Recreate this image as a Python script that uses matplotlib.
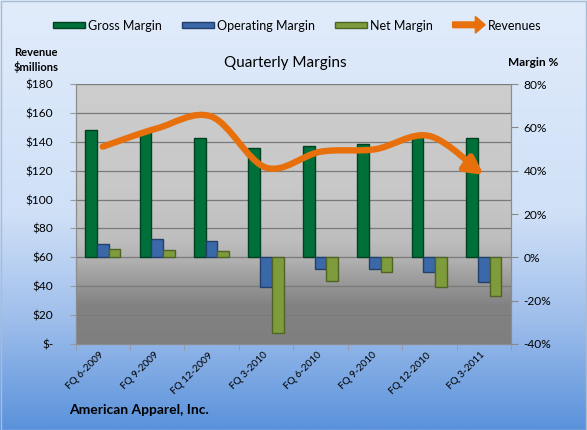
import numpy as np
import matplotlib
matplotlib.use("Agg")
import matplotlib.pyplot as plt
import matplotlib.patches as mpatches
from matplotlib.path import Path
from matplotlib.colors import LinearSegmentedColormap
from matplotlib.legend_handler import HandlerPatch

plt.rcParams['font.family'] = ['Lato', 'DejaVu Sans']

quarters = ['FQ 6-2009', 'FQ 9-2009', 'FQ 12-2009', 'FQ 3-2010',
            'FQ 6-2010', 'FQ 9-2010', 'FQ 12-2010', 'FQ 3-2011']
gross_margin = [59.0, 58.3, 55.3, 50.5, 51.3, 52.4, 56.0, 55.2]
operating_margin = [6.3, 8.6, 7.5, -13.7, -5.3, -5.3, -6.8, -11.5]
net_margin = [4.0, 3.6, 2.8, -34.8, -10.7, -6.8, -13.5, -17.8]
revenues = [136.6, 149.3, 157.4, 122.1, 133.1, 134.8, 144.0, 117.0]

rev_ticks = [0, 20, 40, 60, 80, 100, 120, 140, 160, 180]
margin_ticks = [-40, -20, 0, 20, 40, 60, 80]

orange = '#E8700C'
c_gross, e_gross = '#00703A', '#003F1F'
c_op, e_op = '#3A68A8', '#22406A'
c_net, e_net = '#7F9C3C', '#4F6326'

fig = plt.figure(figsize=(5.87, 4.30), dpi=100)

# figure background gradient
bg = fig.add_axes([0, 0, 1, 1], zorder=-10)
bg_cmap = LinearSegmentedColormap.from_list('bgblue', [
    (0.0, '#5A92DB'), (0.25, '#9DBDEB'), (0.5, '#CFE0F7'), (1.0, '#E1ECFB')])
bg.imshow(np.linspace(0, 1, 256).reshape(-1, 1), cmap=bg_cmap, aspect='auto',
          origin='lower', extent=[0, 1, 0, 1])
bg.set_xlim(0, 1)
bg.set_ylim(0, 1)
bg.axis('off')
bg.add_patch(mpatches.Rectangle((0.001, 0.001), 0.998, 0.997, fill=False,
                                edgecolor='#A8BCD6', linewidth=1))

ax = fig.add_axes([75.5 / 587, 1 - 344 / 430, (511 - 75.5) / 587, 260 / 430])
ax2 = ax.twinx()

# plot area gradient
pa_cmap = LinearSegmentedColormap.from_list('pagray', [
    (0.0, '#7F7F7F'), (0.15, '#828282'), (0.32, '#B0B0B0'),
    (0.4, '#BEBEBE'), (0.6, '#C8C8C8'), (1.0, '#CDCDCD')])
ax.imshow(np.linspace(0, 1, 256).reshape(-1, 1), cmap=pa_cmap, aspect='auto',
          origin='lower', extent=[0, 1, 0, 1], transform=ax.transAxes, zorder=0)

x = np.arange(len(quarters))
ax.set_xlim(-0.5, len(quarters) - 0.5)
ax.set_ylim(0, 180)
ax2.set_ylim(-40, 80)

ax.set_yticks(rev_ticks)
ax.set_yticklabels(['$-' if v == 0 else f'${v}' for v in rev_ticks])
ax2.set_yticks(margin_ticks)
ax2.set_yticklabels([f'{v}%' for v in margin_ticks])
ax.grid(axis='y', color='#7A7A7A', linewidth=0.9, zorder=1)
ax.set_axisbelow(True)

ax.set_xticks(x)
ax.set_xticklabels(quarters, rotation=45, ha='right', va='center',
                   rotation_mode='anchor', fontsize=7.2)
ax.set_xticks(np.arange(-0.5, len(quarters), 1), minor=True)
ax.tick_params(axis='x', which='major', length=0, pad=7)
ax.tick_params(axis='x', which='minor', length=4, color='#999999')
ax.tick_params(axis='y', length=4, color='#999999', labelsize=8.6, pad=12)
ax2.tick_params(axis='y', length=5, color='#888888', labelsize=8.6, pad=4)

for a in (ax, ax2):
    a.spines['top'].set_visible(False)
    for s in ('left', 'right', 'bottom'):
        a.spines[s].set_color('#8C8C8C')

w = 0.215
ax2.bar(x - w, gross_margin, w, color=c_gross, edgecolor=e_gross, linewidth=1, zorder=2)
ax2.bar(x, operating_margin, w, color=c_op, edgecolor=e_op, linewidth=1, zorder=2)
ax2.bar(x + w, net_margin, w, color=c_net, edgecolor=e_net, linewidth=1, zorder=2)

# smoothed revenue line (bezier through the data points) ending in an arrow
pts = np.column_stack([x, revenues]).astype(float)
verts = [pts[0]]
codes = [Path.MOVETO]
n = len(pts)
for i in range(n - 1):
    p0 = pts[max(i - 1, 0)]
    p1 = pts[i]
    p2 = pts[i + 1]
    p3 = pts[min(i + 2, n - 1)]
    verts += [p1 + (p2 - p0) / 6, p2 - (p3 - p1) / 6, p2]
    codes += [Path.CURVE4] * 3
rev_path = Path(verts, codes)
arrow = mpatches.FancyArrowPatch(path=rev_path, transform=ax.transData,
                                 arrowstyle='-|>,head_length=0.8,head_width=0.42',
                                 mutation_scale=13, color=orange, linewidth=4.6,
                                 capstyle='round', joinstyle='round', zorder=5)
ax2.add_patch(arrow)


def make_arrow(legend, orig_handle, xdescent, ydescent, width, height, fontsize):
    return mpatches.FancyArrow(0, height / 2, width, 0, width=height * 0.55,
                               head_width=height * 1.6, head_length=width * 0.3,
                               length_includes_head=True, color=orange, linewidth=0)


def make_bar(legend, orig_handle, xdescent, ydescent, width, height, fontsize):
    return mpatches.Rectangle((0, height * 0.2), width, height * 0.6)


h_gross = mpatches.Patch(facecolor=c_gross, edgecolor=e_gross, label='Gross Margin')
h_op = mpatches.Patch(facecolor=c_op, edgecolor=e_op, label='Operating Margin')
h_net = mpatches.Patch(facecolor=c_net, edgecolor=e_net, label='Net Margin')
h_rev = mpatches.Patch(color=orange, label='Revenues')
bar_handler = HandlerPatch(patch_func=make_bar)
fig.legend(handles=[h_gross, h_op, h_net, h_rev], loc='center', ncol=4,
           bbox_to_anchor=(297 / 587, 1 - 26 / 430), frameon=False, fontsize=9,
           handlelength=2.6, handleheight=0.9, handletextpad=0.2, columnspacing=1.6,
           handler_map={h_gross: bar_handler, h_op: bar_handler, h_net: bar_handler,
                        h_rev: HandlerPatch(patch_func=make_arrow)})

fig.text(285.5 / 587, 1 - 63 / 430, 'Quarterly Margins', ha='center', va='center',
         fontsize=11)
fig.text(36 / 587, 1 - 60 / 430, 'Revenue\n$millions', ha='center', va='center',
         fontsize=8, fontweight='bold', linespacing=1.35)
fig.text(533 / 587, 1 - 63 / 430, 'Margin %', ha='center', va='center',
         fontsize=8.6, fontweight='bold')
fig.text(69 / 587, 1 - 410 / 430, 'American Apparel, Inc.', ha='left', va='center',
         fontsize=10, fontweight='bold')

fig.savefig('out.png', dpi=100)
